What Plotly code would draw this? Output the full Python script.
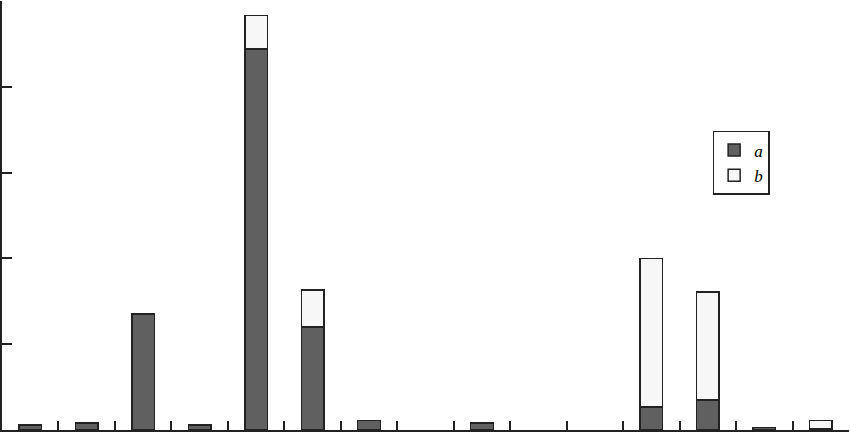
import plotly.graph_objects as go

# categories (no labels shown on the axis)
categories = [str(i) for i in range(1, 16)]

# series values (None = no bar segment)
a_vals = [0.06, 0.08, 1.35, 0.06, 4.44, 1.20, 0.11, None, 0.08, None, None, 0.27, 0.35, 0.03, 0.02]
b_vals = [None, None, None, None, 0.39, 0.43, None, None, None, None, None, 1.73, 1.26, None, 0.09]

y_ticks = [0, 1, 2, 3, 4, 5]

fig = go.Figure()

fig.add_trace(go.Bar(x=categories, y=a_vals, name="<i>a</i>",
                     marker=dict(color="#606060", line=dict(color="#222222", width=1.5))))
fig.add_trace(go.Bar(x=categories, y=b_vals, name="<i>b</i>",
                     marker=dict(color="#f7f7f7", line=dict(color="#222222", width=1.5))))

fig.update_layout(
    width=850, height=432,
    barmode="stack",
    bargap=0.6,
    margin=dict(l=2, r=1, t=1, b=2),
    plot_bgcolor="white",
    paper_bgcolor="white",
    font=dict(family="Liberation Serif", size=17, color="black"),
    legend=dict(x=0.839, y=0.697, xanchor="left", yanchor="top",
                bordercolor="#222222", borderwidth=1.5, bgcolor="white",
                traceorder="normal", itemwidth=30, font=dict(size=17),
                tracegroupgap=0),
)

fig.update_xaxes(showticklabels=False, showline=True, linecolor="#222222", linewidth=1.5,
                 ticks="inside", ticklen=9, tickwidth=1.5, tickcolor="#222222",
                 tickson="boundaries", showgrid=False, zeroline=False)
fig.update_yaxes(range=[0, 5], tickvals=y_ticks, showticklabels=False, showline=True,
                 linecolor="#222222", linewidth=1.5, ticks="inside", ticklen=10,
                 tickwidth=1.5, tickcolor="#222222", showgrid=False, zeroline=False)

# page has a default body margin; remove it so the chart fills the window
fig.write_html("out.html", config={"displayModeBar": False},
               post_script="document.body.style.margin='0';")
